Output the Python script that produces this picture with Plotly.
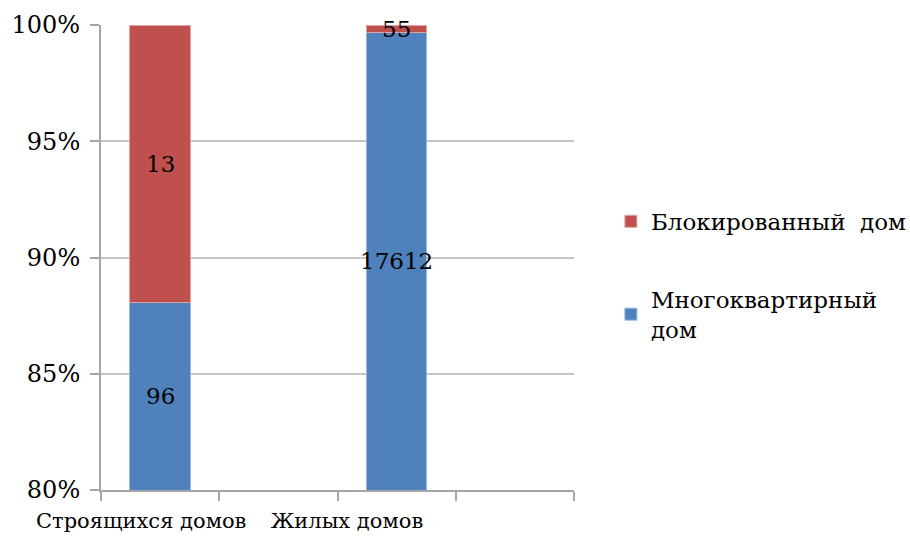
import plotly.graph_objects as go

# Data
categories = ["Строящихся домов", "Жилых домов"]
cat_positions = [0, 2]            # slot index of each column on a 4-slot axis
apartment = [96, 17612]           # Многоквартирный дом
blocked = [13, 55]                # Блокированный дом
series_names = ["Многоквартирный<br>дом", "Блокированный  дом"]
y_ticks = [80, 85, 90, 95, 100]

BLUE = "#4F81BD"
RED = "#C0504D"
FONT = "DejaVu Serif"
FS = 23

y_min, y_max = 80, 100

fig = go.Figure()
fig.add_trace(go.Bar(x=cat_positions, y=apartment, name=series_names[0],
                     marker=dict(color=BLUE, line=dict(color="#9db8dc", width=1)),
                     width=0.51, legendgroup="a", legendrank=2, hoverinfo="skip"))
fig.add_trace(go.Bar(x=cat_positions, y=blocked, name=series_names[1],
                     marker=dict(color=RED, line=dict(color="#e0a3a1", width=1)),
                     width=0.51, legendgroup="b", legendrank=1, hoverinfo="skip"))

# Value labels at the centre of the visible part of each segment
annotations = []
for xpos, a, b in zip(cat_positions, apartment, blocked):
    total = a + b
    pa = a / total * 100
    lo, hi = max(y_min, 0), min(y_max, pa)
    annotations.append(dict(x=xpos, y=(lo + hi) / 2, text=str(a), showarrow=False,
                            xref="x", yref="y", font=dict(family=FONT, size=FS, color="black")))
    lo, hi = max(y_min, pa), min(y_max, 100)
    annotations.append(dict(x=xpos, y=(lo + hi) / 2, text=str(b), showarrow=False,
                            xref="x", yref="y", font=dict(family=FONT, size=FS, color="black")))

fig.update_layout(
    barmode="stack",
    barnorm="percent",
    width=910, height=539,
    margin=dict(l=101, r=336, t=25, b=49, autoexpand=False),
    paper_bgcolor="white", plot_bgcolor="white",
    font=dict(family=FONT, size=FS, color="black"),
    showlegend=True,
    legend=dict(x=1.078, y=0.624, xanchor="left", yanchor="top",
                traceorder="grouped", tracegroupgap=45,
                font=dict(family=FONT, size=FS, color="black"),
                itemwidth=30, bgcolor="rgba(0,0,0,0)"),
    annotations=annotations,
)

fig.update_xaxes(
    range=[-0.5, 3.5],
    tickvals=[-0.16, 1.58], ticktext=categories,
    ticks="", showgrid=False, automargin=False,
    showline=True, linecolor="#a6a6a6", linewidth=2,
    tickfont=dict(family=FONT, size=21),
    ticklabelstandoff=11,
    minor=dict(tickvals=[-0.5, 0.5, 1.5, 2.5, 3.5], ticks="outside",
               ticklen=9, tickwidth=2, tickcolor="#a6a6a6", showgrid=False),
    zeroline=False, fixedrange=True,
)
fig.update_yaxes(
    range=[y_min, y_max],
    tickvals=y_ticks, ticktext=[f"{v}%" for v in y_ticks],
    ticks="outside", ticklen=9, tickwidth=2, tickcolor="#a6a6a6",
    showline=True, linecolor="#a6a6a6", linewidth=2,
    showgrid=True, gridcolor="#c4c4c4", gridwidth=2,
    tickfont=dict(family=FONT, size=24), automargin=False,
    ticklabelstandoff=5,
    zeroline=False, fixedrange=True,
)

fig.write_html("out.html")
